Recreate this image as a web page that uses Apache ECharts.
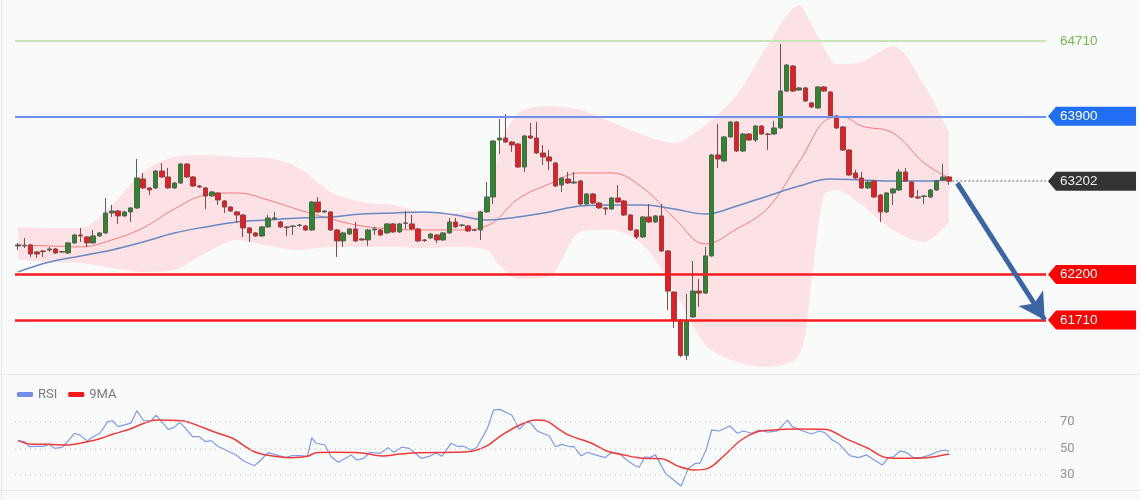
<!DOCTYPE html>
<html>
<head>
<meta charset="utf-8">
<script src="https://cdn.jsdelivr.net/npm/echarts/dist/echarts.min.js"></script>
<style>
  html, body { margin: 0; padding: 0; background: #f9fbfb; }
  #chart { width: 1140px; height: 500px; }
</style>
</head>
<body>
<div id="chart"></div>
<script>
// candles: [open, close, low, high]
const candles = [
  [62506,62517,62463,62539],[62506,62510,62485,62592],[62517,62420,62388,62528],[62441,62420,62377,62452],
  [62452,62445,62388,62463],[62463,62474,62441,62496],[62474,62431,62420,62485],[62445,62441,62431,62452],
  [62431,62539,62420,62549],[62539,62624,62528,62635],[62624,62614,62549,62700],[62603,62539,62496,62614],
  [62539,62614,62528,62678],[62614,62646,62603,62657],[62646,62861,62635,63022],[62861,62882,62818,62947],
  [62882,62829,62743,62893],[62829,62872,62818,62882],[62872,62915,62764,62925],[62915,63237,62904,63441],
  [63226,63130,63119,63291],[63130,63108,63054,63140],[63130,63312,63119,63323],[63312,63248,63237,63398],
  [63248,63130,63119,63345],[63130,63183,63119,63194],[63183,63387,63173,63398],[63387,63248,63237,63398],
  [63248,63151,63140,63259],[63151,63140,63130,63162],[63130,63044,62904,63140],[63044,63087,63033,63098],
  [63076,63001,62947,63087],[62990,62925,62861,63001],[62925,62882,62872,62936],[62872,62839,62754,62882],
  [62839,62700,62603,62850],[62700,62646,62549,62711],[62646,62614,62603,62657],[62614,62711,62603,62721],
  [62711,62807,62700,62839],[62797,62807,62786,62872],[62764,62711,62700,62775],[62711,62705,62614,62721],
  [62716,62721,62624,62732],[62727,62732,62711,62743],[62721,62678,62667,62732],[62678,62979,62667,62990],
  [62979,62872,62861,63033],[62872,62882,62861,62893],[62872,62678,62667,62882],[62678,62560,62388,62689],
  [62560,62646,62496,62657],[62635,62689,62624,62700],[62689,62560,62549,62764],[62581,62571,62560,62592],
  [62571,62678,62506,62689],[62678,62689,62624,62711],[62678,62624,62614,62689],[62646,62743,62635,62754],
  [62743,62657,62646,62754],[62657,62743,62646,62754],[62749,62754,62689,62882],[62743,62689,62678,62839],
  [62689,62560,62549,62700],[62571,62565,62549,62581],[62592,62635,62581,62646],[62624,62571,62539,62635],
  [62571,62646,62560,62657],[62646,62764,62635,62807],[62764,62711,62700,62807],[62727,62732,62711,62743],
  [62721,62667,62657,62732],[62678,62673,62667,62689],[62678,62872,62571,62882],[62872,63033,62861,63194],
  [63033,63635,62957,63646],[63646,63667,63495,63872],[63667,63624,63613,63925],[63624,63592,63517,63635],
  [63603,63355,63345,63613],[63355,63689,63302,63700],[63689,63667,63656,63828],[63667,63506,63495,63839],
  [63506,63463,63377,63592],[63463,63420,63323,63538],[63398,63151,63140,63409],[63162,63237,63087,63248],
  [63226,63183,63173,63302],[63183,63194,63173,63302],[63205,62957,62947,63216],[62957,63065,62947,63076],
  [63065,62968,62957,63076],[62968,62915,62904,62979],[62915,62904,62839,62925],[62904,63022,62893,63033],
  [63022,62979,62968,63162],[62990,62839,62829,63001],[62839,62678,62667,62850],[62678,62603,62581,62689],
  [62603,62818,62592,62829],[62818,62764,62754,62957],[62764,62829,62754,62839],[62829,62452,62441,62957],
  [62452,62021,61818,62463],[62011,61710,61624,62021],[61710,61330,61310,61720],[61330,61710,61280,61990],
  [61743,62021,61732,62345],[62021,61999,61850,62151],[61999,62399,61990,62496],[62399,63484,62388,63495],
  [63484,63441,63345,63818],[63420,63678,63409,63689],[63678,63839,63667,63850],[63839,63527,63517,63850],
  [63527,63710,63517,63721],[63710,63646,63635,63721],[63646,63796,63624,63807],[63796,63710,63700,63807],
  [63710,63705,63538,63721],[63710,63775,63700,63850],[63775,64172,63764,64678],[64172,64452,64162,64463],
  [64441,64172,64162,64452],[64183,64205,64172,64216],[64205,64065,64055,64216],[64044,64001,63990,64055],
  [63990,64216,63979,64226],[64216,64172,64162,64226],[64162,63904,63893,64172],[63904,63775,63764,63915],
  [63786,63538,63527,63796],[63538,63269,63259,63548],[63291,63237,63226,63323],[63237,63130,63119,63302],
  [63130,63194,63119,63205],[63205,63033,63022,63216],[63054,62872,62764,63065],[62872,63076,62861,63087],
  [63076,63119,62947,63130],[63108,63302,63098,63334],[63302,63205,63194,63345],[63194,63033,63022,63205],
  [63033,63022,63011,63108],[63038,63044,62957,63054],[63033,63108,63022,63119],[63108,63205,63098,63216],
  [63216,63248,63205,63387],[63248,63202,63162,63259]
];
const slotCount = 165; // candle slots incl. empty room on the right

// bollinger band, read at a few candle positions
const bandIdx   = [0,5,10,15,20,25,30,35,40,45,50,55,60,65,70,75,77,80,85,90,95,100,105,110,115,120,125,127,129,131,135,140,145,149];
const bandUpper = [62711,62700,62700,62947,63302,63463,63484,63463,63452,63345,63087,62979,62947,62872,62861,62947,63538,63936,64011,63968,63839,63699,63613,63807,64129,64667,65097,64882,64635,64463,64484,64656,64237,63721];
const bandLower = [62355,62334,62323,62269,62227,62248,62431,62571,62506,62463,62496,62496,62496,62485,62496,62463,62302,62151,62183,62657,62678,62517,62033,61441,61258,61205,61334,62141,63054,63108,62947,62678,62549,62764];

const midIdx = [0,5,10,15,20,25,30,35,40,45,50,55,60,65,70,75,80,85,90,95,100,105,110,115,120,125,130,132,135,140,145,149];
const midVal = [62517,62506,62496,62571,62700,62904,63054,63076,63001,62893,62797,62721,62689,62678,62678,62721,63011,63173,63291,63291,63130,62807,62528,62689,62915,63409,63882,63893,63796,63721,63398,63237];

const maIdx = [0,5,10,15,20,25,30,35,40,45,50,55,60,65,70,75,80,85,90,95,100,105,110,115,120,125,130,135,140,145,149];
const maVal = [62227,62334,62399,62463,62549,62646,62711,62764,62786,62807,62818,62850,62861,62872,62839,62786,62818,62872,62936,62947,62947,62904,62850,62936,63044,63151,63226,63216,63205,63205,63216];

// price levels
const resistTop = 64710;
const resistMid = 63900;
const lastPrice = 63202;
const support1 = 62200;
const support2 = 61710;

// RSI panel
const rsiIdx = [0,1,1.8,2.9,4,5,5.8,7,7.7,9,9.9,11.1,12,13.1,14.3,15.1,16,17.2,18.1,19,20.1,21.3,22.1,23,24,24.9,25.9,26.8,27.9,29,30,30.9,31.9,33.2,34.9,36.1,37.8,38.7,40,41.3,42.8,43.9,45.1,46.3,47,47.7,49.1,50.1,51.2,52.4,53.3,54.2,55.3,56.3,57.9,59.2,60.1,61.4,62.6,64.5,65.8,66.9,67.8,69.3,70.3,71.3,72.5,73.4,75.1,76.1,77.1,79,80.2,81.4,82,83.1,85,86,87,88.3,88.9,90.1,91.1,92.4,93.9,95,96.2,97.4,98.8,99.4,100.3,101.1,102,103.6,104.9,106.1,107.2,108.4,109.1,110.1,111,112.2,113.9,115.1,116.1,117.4,118.6,120,121.5,123.1,123.9,125.6,127,128.2,129.1,130.3,131.3,133.1,134.5,135.8,137,138.3,139.3,140.1,141.2,142.2,143.3,144.5,146,147.1,148.3,149];
const rsiVal = [55.8,55,51.2,51.5,51.5,53,50,50.7,53.8,61.4,60,55.5,58.8,61.4,70,70.9,66.4,68,69.3,78.5,70.9,70.9,75.2,70.2,64.4,65.7,69.7,65.1,58.8,58.8,55,55.8,51.7,48.7,44.9,40.4,36.8,40.4,46.7,45,42.9,44.5,44.5,43.9,58,53.8,52.5,43.6,39.4,42.4,45,41.1,42.4,47,46.1,50.5,47,50.8,50,42.4,43.9,46.4,43.9,53.8,51.5,51.5,48.7,50.6,65.1,79,79.5,75.2,64.4,70,69.3,63.1,59.3,51.2,53,51.2,51.5,44.2,47,45,42.9,47,46.1,41.1,36.6,35.6,43.6,42.9,45,31,26,21.4,34.3,38.6,38.6,48.7,63.9,63.1,66.9,61.4,63.1,61.4,63.9,62.3,63.1,71.4,66.4,63.1,60.8,63.1,61.9,56.3,53.8,44.4,42.9,45,41.1,37.3,42.9,43.6,48,46.7,42.9,42.9,45,47.4,48.7,47.8];
const ma9Idx = [0,1.8,4.8,7.7,11.1,12.8,15.1,17.8,20.4,22.1,26.2,28.5,32,34.3,37.8,40.7,43.7,46.3,47.7,50.6,54.7,58.2,61.1,64,69.8,72.8,75.1,77.4,80.3,82.9,84.4,86.7,88.3,91.8,94.2,97,100,103,105.8,108.1,110.4,112.8,115.7,118.3,121,124.4,129.1,132.6,136,139,141.9,145.4,149];
const ma9Val = [55.8,53.3,53,52.5,55,56.8,60.6,64.4,69.4,71.4,70.9,67.7,61.4,57.6,47.4,44.2,42.9,43.9,46.7,47,46.7,44.2,45.6,46.7,47,48,52,60,67.7,71.4,70.9,63.9,59.6,53.8,48,44.9,42.4,42,36.1,33.6,34.8,43.6,56.3,62.6,63.9,64.6,64.4,57,50,42.9,42.4,42.9,45.7];
const rsiLevels = [70, 50, 30];

const zip = (xs, ys) => xs.map((x, i) => [x, ys[i]]);
const categories = Array.from({ length: slotCount }, (_, i) => String(i));
const lastIdx = candles.length - 1;
const lastRsi = rsiVal[rsiVal.length - 1];
const bg = '#f9fbfb';

const chart = echarts.init(document.getElementById('chart'));

chart.setOption({
  backgroundColor: bg,
  animation: false,
  grid: [
    { left: 15, right: 94, top: 0, height: 373 },
    { left: 15, right: 94, top: 399.5, height: 91 },
  ],
  legend: {
    data: [{ name: 'RSI', icon: 'roundRect' }, { name: '9MA', icon: 'roundRect' }],
    left: 12, top: 383,
    itemWidth: 16, itemHeight: 5, itemGap: 11,
    textStyle: { color: '#7a7a7a', fontSize: 13, fontFamily: 'Roboto, sans-serif' },
  },
  xAxis: [
    { type: 'category', gridIndex: 0, data: categories, boundaryGap: true, show: false },
    { type: 'value', gridIndex: 0, min: -0.5, max: slotCount - 0.5, show: false },
    { type: 'value', gridIndex: 1, min: -0.5, max: slotCount - 0.5, show: false },
  ],
  yAxis: [
    { type: 'value', gridIndex: 0, min: 61140, max: 65151, show: false, splitLine: { show: false } },
    { type: 'value', gridIndex: 1, min: 18, max: 87, show: false, splitLine: { show: false } },
  ],
  series: [
    // band: pink fill under the upper edge, then masked below the lower edge
    {
      name: 'bandHigh', type: 'line', xAxisIndex: 1, yAxisIndex: 0,
      data: zip(bandIdx, bandUpper), smooth: 0.3, symbol: 'none', silent: true, z: 1,
      lineStyle: { opacity: 0 },
      areaStyle: { color: '#fde2e5', opacity: 1, origin: 'start' },
    },
    {
      name: 'bandLow', type: 'line', xAxisIndex: 1, yAxisIndex: 0,
      data: zip(bandIdx, bandLower), smooth: 0.3, symbol: 'none', silent: true, z: 1.5,
      lineStyle: { opacity: 0 },
      areaStyle: { color: bg, opacity: 1, origin: 'start' },
    },
    {
      name: 'mid', type: 'line', xAxisIndex: 1, yAxisIndex: 0,
      data: zip(midIdx, midVal), smooth: 0.4, symbol: 'none', silent: true, z: 2,
      lineStyle: { color: 'rgba(240,95,95,0.8)', width: 1 },
    },
    {
      name: 'ma', type: 'line', xAxisIndex: 1, yAxisIndex: 0,
      data: zip(maIdx, maVal), smooth: 0.4, symbol: 'none', silent: true, z: 2,
      lineStyle: { color: '#6688c4', width: 1.5 },
    },
    {
      name: 'price', type: 'candlestick', xAxisIndex: 0, yAxisIndex: 0,
      data: candles, barWidth: 5, z: 3,
      itemStyle: {
        color: '#2a8a2a', color0: '#ec1a22',
        borderColor: '#556055', borderColor0: '#8a4545', borderWidth: 1,
      },
    },
    {
      name: 'levels', type: 'line', xAxisIndex: 1, yAxisIndex: 0,
      data: [[lastIdx, lastPrice]], symbol: 'none', lineStyle: { opacity: 0 }, z: 5, silent: true,
      markLine: {
        silent: true, symbol: 'none', label: { show: false },
        data: [
          { yAxis: resistTop, lineStyle: { color: '#c8e6b5', width: 2, type: 'solid' } },
          { yAxis: resistMid, lineStyle: { color: '#6f90f0', width: 2, type: 'solid' } },
          { yAxis: support1, lineStyle: { color: '#f41c1c', width: 2.5, type: 'solid' } },
          { yAxis: support2, lineStyle: { color: '#f41c1c', width: 2.5, type: 'solid' } },
          [
            { coord: [lastIdx + 0.5, lastPrice], lineStyle: { color: '#a9b0b5', width: 2, type: [2, 2] } },
            { coord: [slotCount - 0.5, lastPrice] },
          ],
          [
            { coord: [lastIdx + 1.3, lastPrice - 20], symbol: 'none', lineStyle: { color: '#3b65a5', width: 5, type: 'solid' } },
            { coord: [slotCount - 0.7, support2], symbol: 'arrow', symbolSize: [22, 26] },
          ],
        ],
      },
    },
    {
      name: 'RSI', type: 'line', xAxisIndex: 2, yAxisIndex: 1,
      data: zip(rsiIdx, rsiVal), symbol: 'none', color: '#6f8fe6',
      lineStyle: { color: '#7d9bea', width: 1.2 },
      markLine: {
        silent: true, symbol: 'none',
        label: { position: 'end', distance: 14, color: '#929292', fontSize: 13, fontFamily: 'Roboto, sans-serif' },
        data: rsiLevels.map(v => ({ yAxis: v, lineStyle: { color: '#d8d0d0', width: 1.5, type: [1, 4] } })).concat([[
          { coord: [lastIdx, lastRsi], label: { show: false }, lineStyle: { color: '#8fa7ee', width: 1, type: [3, 3] } },
          { coord: [slotCount - 0.3, lastRsi] },
        ]]),
      },
    },
    {
      name: '9MA', type: 'line', xAxisIndex: 2, yAxisIndex: 1,
      data: zip(ma9Idx, ma9Val), smooth: 0.35, symbol: 'none', color: '#f01c1c',
      lineStyle: { color: '#f03a3a', width: 1.5 },
    },
  ],
});

// price tags on the right, placed from the price axis
function priceTag(value, fill, textColor) {
  const y = chart.convertToPixel({ yAxisIndex: 0 }, value);
  const g = [];
  if (fill) {
    g.push({
      type: 'polygon', silent: true, z: 10,
      shape: { points: [[1048, y], [1056, y - 9.5], [1136, y - 9.5], [1136, y + 9.5], [1056, y + 9.5]] },
      style: { fill: fill },
    });
  }
  g.push({
    type: 'text', silent: true, z: 11, x: 1060, y: y,
    style: { text: String(value), fill: textColor, font: '13.5px Arial, "Liberation Sans", sans-serif', verticalAlign: 'middle' },
  });
  return g;
}

chart.setOption({
  graphic: [
    { type: 'line', silent: true, z: 20, shape: { x1: 1.5, y1: 0, x2: 1.5, y2: 500 }, style: { stroke: '#e4e8ea', lineWidth: 1 } },
    { type: 'line', silent: true, z: 20, shape: { x1: 0, y1: 374.5, x2: 1140, y2: 374.5 }, style: { stroke: '#e4e8ea', lineWidth: 1 } },
    { type: 'line', silent: true, z: 20, shape: { x1: 0, y1: 490.5, x2: 1140, y2: 490.5 }, style: { stroke: '#e4e8ea', lineWidth: 1 } },
  ].concat(
    priceTag(resistTop, null, '#74b94a'),
    priceTag(resistMid, '#1f6ef3', '#ffffff'),
    priceTag(lastPrice, '#333333', '#eeeeee'),
    priceTag(support1, '#ff0000', '#ffffff'),
    priceTag(support2, '#ff0000', '#ffffff')
  ),
});
</script>
</body>
</html>
